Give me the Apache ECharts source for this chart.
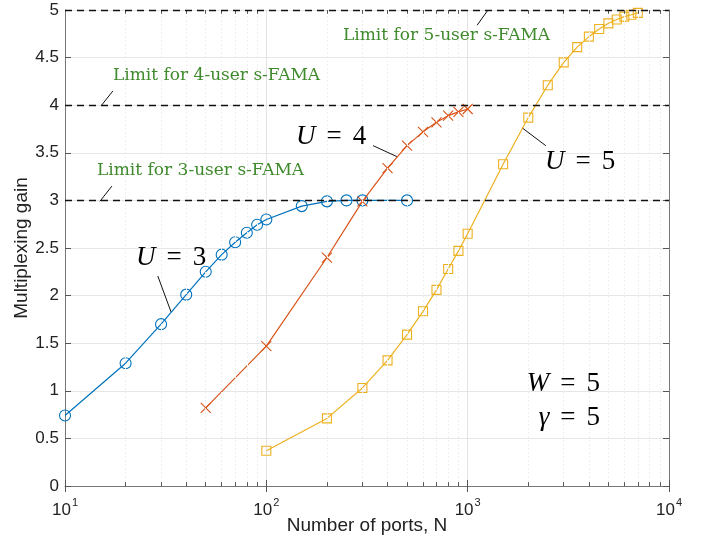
<!DOCTYPE html>
<html>
<head>
<meta charset="utf-8">
<script src="https://cdn.jsdelivr.net/npm/echarts@6/dist/echarts.min.js"></script>
<style>
  html, body { margin: 0; padding: 0; background: #fff; }
  #main { width: 707px; height: 544px; }
</style>
</head>
<body>
<div id="main"></div>
<script>
// data
var portsU3 = [10, 20, 30, 40, 50, 60, 70, 80, 90, 100, 150, 200, 250, 300, 500]
var gainU3 = [0.74, 1.29, 1.70, 2.01, 2.25, 2.43, 2.56, 2.66, 2.745, 2.80, 2.94, 2.99, 3.0, 3.0, 3.0]

var portsU4 = [50, 100, 200, 300, 400, 500, 600, 700, 800, 900, 1000]
var gainU4 = [0.82, 1.47, 2.40, 2.99, 3.34, 3.575, 3.72, 3.82, 3.89, 3.93, 3.96]

var portsU5 = [100, 200, 300, 400, 500, 600, 700, 800, 900, 1000, 1500, 2000, 2500, 3000, 3500, 4000, 4500, 5000, 5500, 6000, 6500, 7000]
var gainU5 = [0.37, 0.71, 1.03, 1.32, 1.59, 1.835, 2.06, 2.28, 2.47, 2.65, 3.38, 3.87, 4.21, 4.45, 4.61, 4.72, 4.80, 4.86, 4.90, 4.93, 4.95, 4.97]

var limits = [3, 4, 5]
var minorPorts = [20, 30, 40, 50, 60, 70, 80, 90, 200, 300, 400, 500, 600, 700, 800, 900, 2000, 3000, 4000, 5000, 6000, 7000, 8000, 9000]

// pointer lines of the annotations, [from, to] in data units
var pointers = [
  [[1114, 4.84], [1262, 5.0]],
  [[15.2, 4.0], [17.3, 4.15]],
  [[14.9, 2.99], [17.1, 3.15]],
  [[339, 3.575], [445, 3.46]],
  [[1878, 3.757], [2443, 3.575]],
  [[28.9, 2.206], [33.6, 1.83]]
]

var blue = '#0072BD'
var orange = '#D95319'
var yellow = '#EDB120'
var green = '#3f8a2c'
var sans = '"Liberation Sans", Arial, sans-serif'
var serif = '"Liberation Serif", "DejaVu Serif", serif'

function pairs (xs, ys) {
  return xs.map(function (x, i) { return [x, ys[i]] })
}

var myChart = echarts.init(document.getElementById('main'))

var mathRich = {
  i: { fontFamily: serif, fontStyle: 'italic', fontSize: 27, color: '#000' },
  n: { fontFamily: serif, fontSize: 27, color: '#000' },
  s: { fontFamily: serif, fontSize: 27, width: 11 }
}

function mathText (sym, val) {
  return '{i|' + sym + '}{s| }{n|=}{s| }{n|' + val + '}'
}

var limitFont = '17px "DejaVu Serif", serif'

var option = {
  animation: false,
  backgroundColor: '#fff',
  grid: { left: 65, right: 38, top: 10, bottom: 58, containLabel: false, outerBoundsMode: 'none' },
  xAxis: [
    {
      type: 'log',
      logBase: 10,
      min: 10,
      max: 10000,
      name: 'Number of ports, N',
      nameLocation: 'middle',
      nameGap: 30,
      nameMoveOverlap: false,
      nameTextStyle: { fontFamily: sans, fontSize: 19, color: '#222' },
      axisLine: { show: true, lineStyle: { color: '#777', width: 1 } },
      axisTick: { show: true, inside: true, length: 6, lineStyle: { color: '#555' } },
      splitLine: { show: true, lineStyle: { color: '#e3e3e3', width: 1 } },
      axisLabel: {
        margin: 11,
        formatter: function (v) {
          return '{a|10}{b|' + Math.round(Math.log10(v)) + '}'
        },
        rich: {
          a: { fontFamily: sans, fontSize: 17, color: '#222', lineHeight: 22, verticalAlign: 'bottom' },
          b: { fontFamily: sans, fontSize: 11, color: '#222', lineHeight: 22, verticalAlign: 'top', padding: [0, 0, 0, 1] }
        }
      }
    },
    {
      type: 'log',
      logBase: 10,
      min: 10,
      max: 10000,
      position: 'top',
      axisLine: { show: false },
      axisTick: { show: true, inside: true, length: 6, lineStyle: { color: '#555' } },
      axisLabel: { show: false },
      splitLine: { show: false }
    }
  ],
  yAxis: [
    {
      type: 'value',
      min: 0,
      max: 5,
      interval: 0.5,
      name: 'Multiplexing gain',
      nameLocation: 'middle',
      nameGap: 34,
      nameMoveOverlap: false,
      nameTextStyle: { fontFamily: sans, fontSize: 19, color: '#222' },
      axisLine: { show: true, lineStyle: { color: '#777', width: 1 } },
      axisTick: { show: true, inside: true, length: 6, lineStyle: { color: '#555' } },
      splitLine: { show: true, lineStyle: { color: '#e6e6e6', width: 1 } },
      axisLabel: { fontFamily: sans, fontSize: 17, color: '#222', margin: 6 }
    },
    {
      type: 'value',
      min: 0,
      max: 5,
      interval: 0.5,
      position: 'right',
      axisLine: { show: true, lineStyle: { color: '#777', width: 1 } },
      axisTick: { show: true, inside: true, length: 6, lineStyle: { color: '#555' } },
      axisLabel: { show: false },
      splitLine: { show: false }
    }
  ],
  series: [
    {
      // minor grid lines and minor ticks
      type: 'line',
      data: [],
      z: 1,
      silent: true,
      markLine: {
        silent: true,
        symbol: 'none',
        label: { show: false },
        animation: false,
        data: minorPorts.map(function (v) {
          return { xAxis: v, lineStyle: { color: '#efefef', type: [2, 2], width: 1 } }
        }).concat(minorPorts.map(function (v) {
          return [{ coord: [v, 0], lineStyle: { color: '#555', type: 'solid', width: 1 } }, { coord: [v, 0.04] }]
        })).concat(minorPorts.map(function (v) {
          return [{ coord: [v, 5], lineStyle: { color: '#555', type: 'solid', width: 1 } }, { coord: [v, 4.96] }]
        }))
      }
    },
    {
      // limit lines and annotation pointers
      type: 'line',
      data: [],
      z: 5,
      silent: true,
      markLine: {
        silent: true,
        symbol: 'none',
        label: { show: false },
        animation: false,
        data: limits.map(function (v) {
          return { yAxis: v, lineStyle: { color: '#111', type: [7, 5], width: 1.4 } }
        }).concat(pointers.map(function (p) {
          return [{ coord: p[0], lineStyle: { color: '#111', type: 'solid', width: 1 } }, { coord: p[1] }]
        }))
      }
    },
    {
      name: 'U=3',
      type: 'line',
      data: pairs(portsU3, gainU3),
      symbol: 'circle',
      symbolSize: 11,
      showAllSymbol: true,
      z: 3,
      lineStyle: { color: blue, width: 1.2 },
      itemStyle: { color: 'rgba(0,0,0,0)', borderColor: blue, borderWidth: 1.1 }
    },
    {
      name: 'U=4',
      type: 'line',
      data: pairs(portsU4, gainU4),
      symbol: 'path://M0,0L10,10M10,0L0,10',
      symbolSize: 10,
      showAllSymbol: true,
      z: 3,
      lineStyle: { color: orange, width: 1.2 },
      itemStyle: { color: 'rgba(0,0,0,0)', borderColor: orange, borderWidth: 1.1 }
    },
    {
      name: 'U=5',
      type: 'line',
      data: pairs(portsU5, gainU5),
      symbol: 'rect',
      symbolSize: 9,
      showAllSymbol: true,
      z: 3,
      lineStyle: { color: yellow, width: 1.2 },
      itemStyle: { color: 'rgba(0,0,0,0)', borderColor: yellow, borderWidth: 1.1 }
    }
  ],
  graphic: [
    { type: 'text', left: 343, top: 27, z: 10, style: { text: 'Limit for 5-user s-FAMA', font: limitFont, fill: green } },
    { type: 'text', left: 113, top: 67, z: 10, style: { text: 'Limit for 4-user s-FAMA', font: limitFont, fill: green } },
    { type: 'text', left: 97, top: 162, z: 10, style: { text: 'Limit for 3-user s-FAMA', font: limitFont, fill: green } },
    { type: 'text', left: 296, top: 123, z: 10, style: { text: mathText('U', 4), rich: mathRich } },
    { type: 'text', left: 545, top: 148, z: 10, style: { text: mathText('U', 5), rich: mathRich } },
    { type: 'text', left: 136, top: 244, z: 10, style: { text: mathText('U', 3), rich: mathRich } },
    { type: 'text', right: 107, top: 370, z: 10, style: { text: mathText('W', 5), rich: mathRich } },
    { type: 'text', right: 107, top: 404, z: 10, style: { text: mathText('γ', 5), rich: mathRich } }
  ]
}

myChart.setOption(option)
</script>
</body>
</html>
